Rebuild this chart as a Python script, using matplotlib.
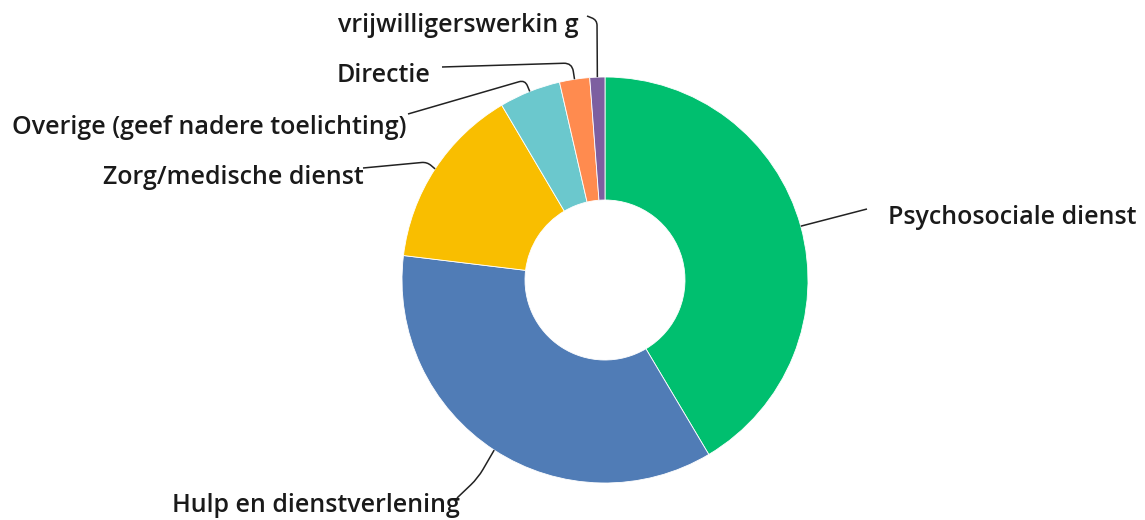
import matplotlib
matplotlib.use("Agg")
import matplotlib.pyplot as plt
import numpy as np
from matplotlib.path import Path
from matplotlib.patches import PathPatch

# ---- data ----
categories = ["Psychosociale dienst", "Hulp en dienstverlening", "Zorg/medische dienst",
              "Overige (geef nadere toelichting)", "Directie", "vrijwilligerswerkin g"]
values = [41.5, 35.5, 14.6, 4.9, 2.4, 1.2]
colors = ["#00BF6F", "#507CB6", "#F9BE00", "#6BC8CD", "#FF8B4F", "#7D5FA0"]

W, H = 1145, 520
fig = plt.figure(figsize=(W / 100, H / 100), dpi=100)
ax = fig.add_axes([0, 0, 1, 1])

def Y(y):
    return H - y

cx, cy, R = 605, Y(280), 203
wedges, _ = ax.pie(values, colors=colors, startangle=90, counterclock=False,
                   center=(cx, cy), radius=R,
                   wedgeprops=dict(width=R - 80, edgecolor="white", linewidth=0.6))
ax.set_xlim(0, W)
ax.set_ylim(0, H)
ax.set_aspect("equal")
ax.axis("off")

# label layout: (text x, text y, ha, elbow points in pixel coords, line end)
layout = {
    "Psychosociale dienst": (888, 218, "left", [], (867, 209)),
    "Hulp en dienstverlening": (172, 505, "left", [(478, 478)], (457, 498)),
    "Zorg/medische dienst": (103, 177, "left", [(427, 162)], (363, 168)),
    "Overige (geef nadere toelichting)": (12, 127, "left", [(525, 80)], (408, 114)),
    "Directie": (337, 75, "left", [(572, 63)], (442, 67)),
    "vrijwilligerswerkin g": (338, 25, "left", [(597, 20)], (587, 16)),
}

font = dict(family=["Open Sans", "DejaVu Sans"], weight="semibold", size=18, color="#1a1a1a")

def rounded_path(pts, r=9):
    verts = [pts[0]]
    codes = [Path.MOVETO]
    for i in range(1, len(pts) - 1):
        p0, p1, p2 = np.array(pts[i - 1]), np.array(pts[i]), np.array(pts[i + 1])
        d1 = p1 - p0
        d2 = p2 - p1
        l1, l2 = np.linalg.norm(d1), np.linalg.norm(d2)
        rr = min(r, l1 / 2, l2 / 2)
        a = p1 - d1 / l1 * rr
        b = p1 + d2 / l2 * rr
        verts += [tuple(a), tuple(p1), tuple(b)]
        codes += [Path.LINETO, Path.CURVE3, Path.CURVE3]
    verts.append(pts[-1])
    codes.append(Path.LINETO)
    return Path(verts, codes)

for w, cat in zip(wedges, categories):
    mid = np.deg2rad((w.theta1 + w.theta2) / 2)
    ax_pt = (cx + R * np.cos(mid), cy + R * np.sin(mid))
    tx, ty, ha, elbows, end = layout[cat]
    pts = [ax_pt] + [(ex, Y(ey)) for ex, ey in elbows] + [(end[0], Y(end[1]))]
    path = rounded_path(pts, r=10)
    ax.add_patch(PathPatch(path, facecolor="none", edgecolor="#222222", linewidth=1.1))
    ax.text(tx, Y(ty), cat, ha=ha, va="center", **font)

fig.savefig("out.png", dpi=100)
